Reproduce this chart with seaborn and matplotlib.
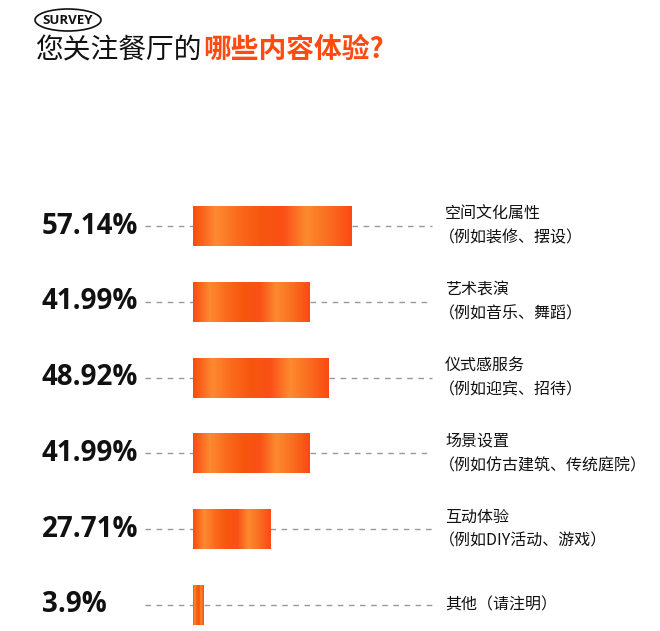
import matplotlib
matplotlib.use("Agg")
import matplotlib.pyplot as plt
import seaborn as sns
import numpy as np
import pandas as pd
from matplotlib.colors import LinearSegmentedColormap
from matplotlib.patches import Ellipse

values = [57.14, 41.99, 48.92, 41.99, 27.71, 3.9]
pct_labels = ["57.14%", "41.99%", "48.92%", "41.99%", "27.71%", "3.9%"]
cat_line1 = ["空间文化属性", "艺术表演", "仪式感服务", "场景设置", "互动体验", "其他（请注明）"]
cat_line2 = ["（例如装修、摆设）", "（例如音乐、舞蹈）", "（例如迎宾、招待）", "（例如仿古建筑、传统庭院）", "（例如DIY活动、游戏）", ""]

FONT = "Noto Sans CJK SC"
plt.rcParams["font.family"] = FONT

W, H = 660, 631
fig = plt.figure(figsize=(6.6, 6.31), dpi=100)
ax = fig.add_axes([0, 0, 1, 1])
pxu = 2.78
x0 = 193
row0, step = 226, 75.8
ax.set_xlim(-x0 / pxu, (W - x0) / pxu)
ax.set_ylim((H - row0) / step, -row0 / step)
ax.axis("off")

df = pd.DataFrame({"pos": np.arange(len(values)), "v": values})
sns.barplot(data=df, x="v", y="pos", orient="h", native_scale=True, width=0.53,
            color="#ff5a14", ax=ax, edgecolor="none")

cmap = LinearSegmentedColormap.from_list("g", ["#fb4a12", "#fd8a30", "#fb6a1c", "#f6560e",
                                               "#fb5018", "#fd8a2e", "#f96d20", "#fb4a12"])
grad = np.linspace(0, 1, 256)[None, :]
for p in ax.patches:
    x, y, w, h = p.get_x(), p.get_y(), p.get_width(), p.get_height()
    im = ax.imshow(grad, cmap=cmap, aspect="auto", extent=(x, x + w, y + h, y), zorder=3)
    im.set_clip_path(p)

for i, v in enumerate(values):
    ax.plot([-48 / pxu, 0], [i, i], ls=(0, (4, 4)), color="#999999", lw=1, zorder=1)
    ax.plot([v, (432 - x0) / pxu], [i, i], ls=(0, (4, 4)), color="#999999", lw=1, zorder=1)
    ax.text((42 - x0) / pxu, i, pct_labels[i], ha="left", va="center", fontsize=20,
            fontweight="bold", family="Open Sans", color="#111111")
    lx = (445 - x0) / pxu
    if cat_line2[i]:
        ax.text(lx, i - 0.16, cat_line1[i], ha="left", va="center", fontsize=11.5, color="#111111")
        ax.text(lx - 6 / pxu, i + 0.16, cat_line2[i], ha="left", va="center", fontsize=11.5, color="#111111")
    else:
        ax.text(lx, i, cat_line1[i], ha="left", va="center", fontsize=11.5, color="#111111")

# header
fig.text(68 / W, 1 - 20 / H, "SURVEY", ha="center", va="center", fontsize=9.5,
         fontweight="bold", family="Open Sans", color="#111111")
fig.add_artist(Ellipse((68 / W, 1 - 20 / H), 66 / W, 22 / H, fill=False, lw=1.2,
                       edgecolor="#111111", transform=fig.transFigure))
fig.text(35 / W, 1 - 50 / H, "您关注餐厅的", ha="left", va="center", fontsize=20, color="#111111")
fig.text(203 / W, 1 - 50 / H, "哪些内容体验?", ha="left", va="center", fontsize=20,
         fontweight="bold", color="#ff4a10")

fig.savefig("out.png", dpi=100, facecolor="white")
